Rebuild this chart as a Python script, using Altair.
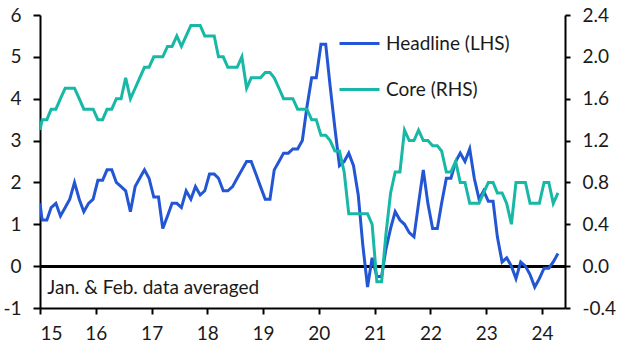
import altair as alt
import pandas as pd

FONT = "Lato"
FS = 19
BLUE = "#2356D3"
TEAL = "#17B8A6"
INK = "#1a1a1a"

# Monthly observations, Dec 2014 .. Apr 2024 (Jan & Feb averaged)
headline = [
    1.5,
    1.1, 1.1, 1.4, 1.5, 1.2, 1.4, 1.6, 2.0, 1.6, 1.3, 1.5, 1.6,
    2.05, 2.05, 2.3, 2.3, 2.0, 1.9, 1.8, 1.3, 1.9, 2.1, 2.3, 2.1,
    1.65, 1.65, 0.9, 1.2, 1.5, 1.5, 1.4, 1.8, 1.6, 1.9, 1.7, 1.8,
    2.2, 2.2, 2.1, 1.8, 1.8, 1.9, 2.1, 2.3, 2.5, 2.5, 2.2, 1.9,
    1.6, 1.6, 2.3, 2.5, 2.7, 2.7, 2.8, 2.8, 3.0, 3.8, 4.5, 4.5,
    5.3, 5.3, 4.3, 3.3, 2.4, 2.5, 2.7, 2.4, 1.7, 0.5, -0.5, 0.2,
    -0.25, -0.25, 0.4, 0.9, 1.3, 1.1, 1.0, 0.8, 0.7, 1.5, 2.3, 1.5,
    0.9, 0.9, 1.5, 2.1, 2.1, 2.5, 2.7, 2.5, 2.8, 2.1, 1.6, 1.8,
    1.55, 1.55, 0.7, 0.1, 0.2, 0.0, -0.3, 0.1, 0.0, -0.2, -0.5, -0.3,
    -0.05, -0.05, 0.1, 0.3,
]
core = [
    1.3,
    1.4, 1.4, 1.5, 1.5, 1.6, 1.7, 1.7, 1.7, 1.6, 1.5, 1.5, 1.5,
    1.4, 1.4, 1.5, 1.5, 1.6, 1.6, 1.8, 1.6, 1.7, 1.8, 1.9, 1.9,
    2.0, 2.0, 2.0, 2.1, 2.1, 2.2, 2.1, 2.2, 2.3, 2.3, 2.3, 2.2,
    2.2, 2.2, 2.0, 2.0, 1.9, 1.9, 1.9, 2.0, 1.7, 1.8, 1.8, 1.8,
    1.85, 1.85, 1.8, 1.7, 1.6, 1.6, 1.6, 1.5, 1.5, 1.5, 1.4, 1.4,
    1.25, 1.25, 1.2, 1.1, 1.1, 0.9, 0.5, 0.5, 0.5, 0.5, 0.5, 0.4,
    -0.15, -0.15, 0.3, 0.7, 0.9, 0.9, 1.3, 1.2, 1.2, 1.3, 1.2, 1.2,
    1.15, 1.15, 1.1, 0.9, 0.9, 1.0, 0.8, 0.8, 0.6, 0.6, 0.6, 0.7,
    0.8, 0.8, 0.7, 0.7, 0.6, 0.4, 0.8, 0.8, 0.8, 0.6, 0.6, 0.6,
    0.8, 0.8, 0.6, 0.7,
]
months = pd.date_range("2015-01-01", "2024-04-01", freq="MS") + pd.Timedelta(days=14)
dates = ["2015-01-01"] + [d.strftime("%Y-%m-%d") for d in months]

series_names = ["Headline (LHS)", "Core (RHS)"]
left_ticks = [-1, 0, 1, 2, 3, 4, 5, 6]
right_ticks = [-0.4, 0.0, 0.4, 0.8, 1.2, 1.6, 2.0, 2.4]
year_ticks = list(range(2015, 2025))
note = "Jan. & Feb. data averaged"

df_h = pd.DataFrame({"date": dates, "value": headline, "series": series_names[0]})
df_c = pd.DataFrame({"date": dates, "value": core, "series": series_names[1]})
df_note = pd.DataFrame({"date": ["2015-02-18"], "label": [note]})

x_enc = alt.X(
    "date:T",
    scale=alt.Scale(domain=[alt.DateTime(year=2015, month=1, date=1),
                            alt.DateTime(year=2024, month=5, date=31)]),
    axis=alt.Axis(
        values=[alt.DateTime(year=y, month=1, date=1) for y in year_ticks],
        format="%y", title=None, grid=False, tickSize=6, tickWidth=2,
        domainWidth=2, domainColor="black", tickColor="black",
        labelPadding=10, labelFontSize=FS, labelFont=FONT, labelColor=INK,
    ),
)

color_enc = alt.Color(
    "series:N",
    scale=alt.Scale(domain=series_names, range=[BLUE, TEAL]),
    legend=alt.Legend(
        title=None, orient="none", legendX=298, legendY=7,
        symbolType="stroke", symbolSize=1600, symbolStrokeWidth=3,
        labelFontSize=FS, labelFont=FONT, labelColor=INK,
        rowPadding=14, labelOffset=5,
    ),
)

head_line = alt.Chart(df_h).mark_line(strokeWidth=3, clip=True).encode(
    x=x_enc,
    y=alt.Y(
        "value:Q",
        scale=alt.Scale(domain=[-1, 6], nice=False, zero=False),
        axis=alt.Axis(
            orient="left", values=left_ticks, title=None, grid=False,
            labelExpr="toString(datum.value)",
            tickSize=7, tickWidth=2, domainWidth=2, domainColor="black",
            tickColor="black", labelPadding=12, labelFontSize=FS,
            labelFont=FONT, labelColor=INK,
        ),
    ),
    color=color_enc,
)

zero_rule = alt.Chart(df_h).mark_rule(color="black", strokeWidth=2.5).encode(
    y=alt.datum(0)
)

note_text = alt.Chart(df_note).mark_text(
    align="left", baseline="middle", fontSize=FS, font=FONT, color=INK
).encode(x="date:T", y=alt.datum(-0.53), text="label:N")

left = alt.layer(zero_rule, head_line, note_text)

core_line = alt.Chart(df_c).mark_line(strokeWidth=3, clip=True).encode(
    x=x_enc,
    y=alt.Y(
        "value:Q",
        scale=alt.Scale(domain=[-0.4, 2.4], nice=False, zero=False),
        axis=alt.Axis(
            orient="right", values=right_ticks, title=None, grid=False,
            labelExpr="replace(format(datum.value, '.1f'), '\u2212', '-')",
            tickSize=5, tickWidth=2, domainWidth=2, domainColor="black",
            tickColor="black", labelPadding=12, labelFontSize=FS,
            labelFont=FONT, labelColor=INK,
        ),
    ),
    color=color_enc,
)

chart = alt.layer(left, core_line).resolve_scale(y="independent").properties(
    width=525, height=293,
    autosize=alt.AutoSizeParams(type="none"),
    padding={"left": 40, "right": 61, "top": 15, "bottom": 44},
).configure_view(stroke=None)

chart.save("out.html", embed_options={"renderer": "svg", "actions": False})
